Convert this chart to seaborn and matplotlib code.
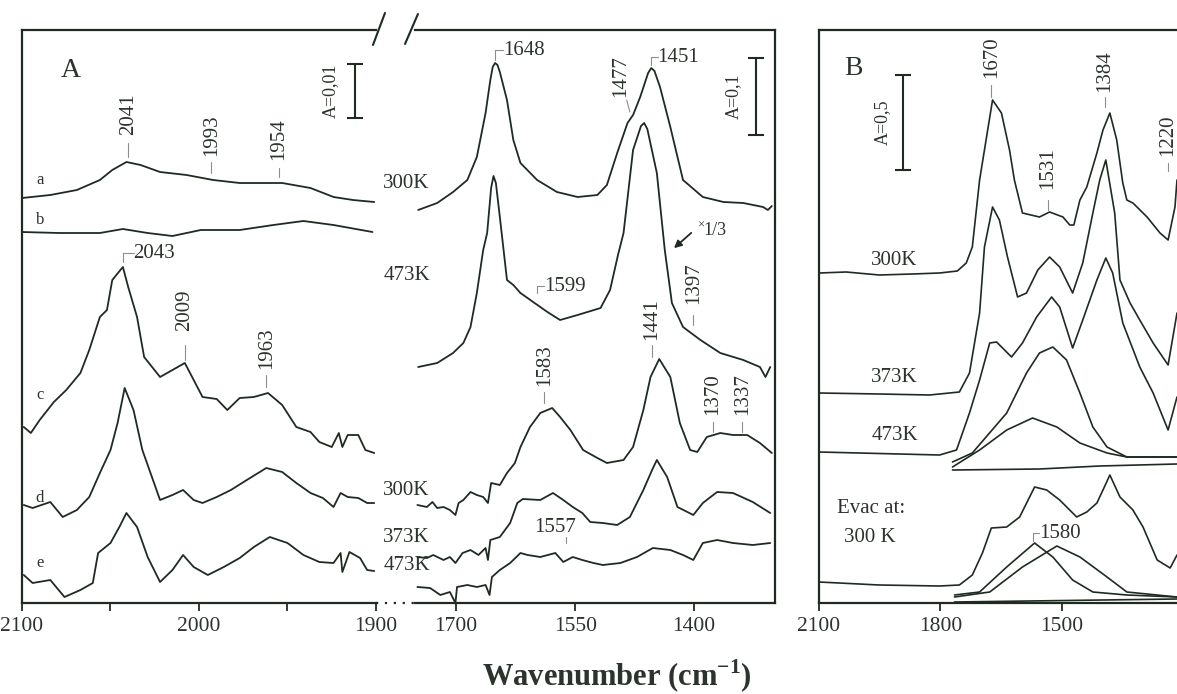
import matplotlib.pyplot as plt
import seaborn as sns
from matplotlib.lines import Line2D

# ---- data (wavenumber cm-1, stacked absorbance offset a.u.) ----
# panel A, 2100-1900 region
a_wn = [2100, 2084, 2069, 2056, 2049, 2041, 2033, 2022, 2007, 1992, 1977, 1953, 1937, 1924, 1913, 1901]
a_y = [405, 408, 413, 423, 433, 441, 438, 431, 428, 423, 420, 420, 415, 406, 403, 401]
b_wn = [2100, 2079, 2056, 2043, 2029, 2015, 1999, 1977, 1958, 1941, 1924, 1902]
b_y = [371, 370, 370, 374, 370, 367, 373, 373, 378, 382, 378, 371]
c_wn = [2099, 2095, 2090, 2082, 2075, 2067, 2062, 2056, 2052, 2049, 2043, 2040, 2035, 2031, 2022, 2015,
        2008, 2003, 1998, 1990, 1984, 1977, 1969, 1961, 1953, 1945, 1937, 1932, 1925, 1921, 1919, 1916,
        1910, 1906, 1901]
c_y = [176, 170, 183, 201, 213, 230, 253, 286, 293, 323, 336, 316, 286, 246, 226, 233,
       240, 223, 206, 204, 193, 205, 206, 210, 198, 176, 171, 161, 156, 170, 156, 168,
       168, 153, 150]
d_wn = [2099, 2094, 2084, 2077, 2069, 2062, 2056, 2050, 2046, 2042, 2037, 2032, 2022, 2015, 2009, 2003,
        1998, 1990, 1982, 1973, 1962, 1953, 1945, 1937, 1930, 1924, 1920, 1916, 1910, 1905, 1901]
d_y = [98, 95, 101, 86, 93, 106, 130, 153, 180, 215, 193, 153, 103, 108, 113, 103,
       100, 106, 113, 123, 135, 131, 120, 110, 105, 96, 110, 106, 105, 100, 100]
e_wn = [2099, 2094, 2084, 2076, 2067, 2060, 2057, 2050, 2045, 2041, 2035, 2029, 2022, 2015, 2009, 2003,
        1995, 1986, 1977, 1969, 1960, 1950, 1941, 1932, 1924, 1920, 1919, 1915, 1909, 1905, 1901]
e_y = [28, 20, 23, 6, 13, 20, 50, 60, 76, 90, 76, 46, 21, 33, 48, 36,
       28, 36, 45, 56, 66, 60, 48, 41, 40, 50, 31, 51, 45, 33, 32]

# panel A, 1750-1300 region
t300_wn = [1748, 1724, 1704, 1686, 1674, 1663, 1657, 1654, 1651, 1648, 1645, 1636, 1628, 1619, 1598, 1573,
           1547, 1522, 1510, 1497, 1484, 1477, 1468, 1458, 1454, 1450, 1443, 1430, 1414, 1389, 1363, 1338,
           1313, 1307, 1302]
t300_y = [393, 400, 411, 423, 446, 490, 523, 536, 540, 538, 531, 503, 463, 440, 423, 411,
          406, 408, 418, 450, 480, 488, 506, 530, 535, 532, 516, 476, 423, 406, 401, 400,
          396, 393, 397]
t473_wn = [1748, 1724, 1704, 1691, 1682, 1674, 1666, 1661, 1656, 1653, 1650, 1645, 1636, 1628, 1619, 1603,
           1585, 1569, 1547, 1518, 1506, 1496, 1489, 1477, 1467, 1463, 1459, 1447, 1437, 1428, 1414, 1392,
           1367, 1338, 1317, 1310, 1304]
t473_y = [236, 240, 250, 260, 276, 310, 353, 370, 415, 427, 420, 386, 323, 318, 310, 301,
          291, 283, 288, 295, 313, 348, 370, 453, 477, 480, 474, 430, 353, 300, 276, 263,
          250, 243, 236, 226, 236]
l300_wn = [1749, 1737, 1730, 1724, 1716, 1708, 1701, 1697, 1691, 1682, 1674, 1666, 1660, 1656, 1645, 1636,
           1626, 1619, 1607, 1594, 1579, 1569, 1556, 1540, 1522, 1510, 1489, 1477, 1464, 1455, 1444, 1430,
           1418, 1405, 1396, 1384, 1367, 1351, 1333, 1317, 1302]
l300_y = [98, 96, 101, 95, 96, 93, 88, 100, 103, 111, 108, 106, 100, 120, 118, 130,
          140, 156, 176, 190, 195, 186, 173, 153, 145, 140, 143, 156, 193, 226, 244, 226,
          180, 153, 151, 166, 170, 168, 168, 160, 150]
l373_wn = [1749, 1737, 1729, 1716, 1708, 1701, 1692, 1682, 1672, 1663, 1660, 1657, 1645, 1632, 1623, 1616,
           1594, 1578, 1565, 1553, 1541, 1531, 1515, 1497, 1481, 1464, 1453, 1447, 1434, 1421, 1401, 1389,
           1371, 1351, 1326, 1304]
l373_y = [46, 45, 48, 43, 46, 40, 50, 53, 48, 55, 43, 63, 66, 80, 100, 104,
          103, 110, 103, 96, 90, 81, 80, 78, 86, 113, 133, 143, 126, 96, 88, 100,
          111, 110, 101, 90]
l473_wn = [1749, 1733, 1720, 1708, 1701, 1699, 1686, 1674, 1663, 1658, 1655, 1645, 1632, 1619, 1610, 1594,
           1575, 1565, 1553, 1541, 1527, 1515, 1493, 1472, 1452, 1430, 1414, 1401, 1389, 1371, 1351, 1326,
           1304]
l473_y = [16, 15, 8, 11, 0, 16, 18, 16, 18, 8, 26, 33, 40, 50, 48, 46,
          50, 41, 46, 43, 40, 38, 40, 46, 55, 53, 48, 43, 60, 63, 60, 58,
          60]

# panel B
b300_wn = [2100, 2033, 1951, 1869, 1802, 1758, 1736, 1721, 1703, 1691, 1671, 1649, 1629, 1617, 1597, 1555,
           1530, 1497, 1480, 1470, 1455, 1438, 1413, 1398, 1381, 1364, 1349, 1339, 1324, 1289, 1257, 1237,
           1220, 1215]
b300_y = [330, 331, 328, 329, 330, 332, 340, 356, 423, 453, 503, 490, 453, 423, 390, 386,
          391, 386, 378, 378, 403, 416, 450, 473, 490, 463, 420, 403, 400, 386, 370, 363,
          396, 423]
b373_wn = [2100, 1951, 1827, 1753, 1728, 1703, 1691, 1671, 1654, 1634, 1609, 1587, 1559, 1530, 1505, 1473,
           1448, 1423, 1406, 1391, 1369, 1356, 1331, 1307, 1274, 1237, 1215]
b373_y = [210, 209, 208, 211, 230, 290, 356, 396, 383, 346, 306, 310, 333, 346, 336, 310,
          340, 390, 423, 443, 390, 323, 300, 283, 260, 238, 290]
b473_wn = [2100, 1802, 1760, 1728, 1703, 1678, 1661, 1624, 1597, 1562, 1525, 1505, 1473, 1448, 1413, 1391,
           1374, 1349, 1307, 1274, 1237, 1215]
b473_y = [151, 148, 153, 190, 223, 260, 261, 246, 260, 286, 306, 296, 255, 283, 323, 345,
          330, 280, 236, 210, 173, 206]
fit1_wn = [1770, 1721, 1636, 1587, 1555, 1522, 1488, 1455, 1423, 1388, 1339, 1215]
fit1_y = [141, 150, 190, 230, 250, 256, 243, 210, 176, 156, 146, 146]
fit2_wn = [1770, 1703, 1636, 1572, 1512, 1455, 1388, 1339, 1215]
fit2_y = [136, 153, 173, 185, 176, 160, 150, 146, 146]
fitb_wn = [1770, 1555, 1406, 1215]
fitb_y = [133, 134, 137, 139]
evac_wn = [2100, 1951, 1802, 1753, 1721, 1696, 1674, 1636, 1604, 1567, 1537, 1505, 1463, 1438, 1413, 1398,
           1381, 1356, 1324, 1299, 1264, 1232, 1215]
evac_y = [21, 18, 17, 18, 28, 50, 75, 76, 86, 116, 113, 103, 86, 91, 100, 113,
          128, 106, 93, 76, 43, 35, 48]
ev1_wn = [1765, 1703, 1636, 1567, 1522, 1473, 1423, 1339, 1215]
ev1_y = [8, 11, 36, 60, 46, 23, 11, 8, 6]
ev2_wn = [1765, 1678, 1597, 1512, 1455, 1388, 1339, 1215]
ev2_y = [6, 11, 36, 57, 46, 26, 11, 6]
evb_wn = [1765, 1215]
evb_y = [1, 4]

LINE = '#1f2b21'
TXT = '#2c332c'
TICK = '#8a8f8a'

sns.set_style('ticks')
plt.rcParams['font.family'] = ['Liberation Serif', 'DejaVu Sans']
plt.rcParams['mathtext.fontset'] = 'custom'
plt.rcParams['mathtext.rm'] = 'Liberation Serif'
plt.rcParams['mathtext.bf'] = 'Liberation Serif:bold'

fig = plt.figure(figsize=(11.77, 6.94), dpi=100)
axL = fig.add_axes([0.01869, 0.13112, 0.30076, 0.82565])
axR = fig.add_axes([0.35259, 0.13112, 0.30586, 0.82565])
axB = fig.add_axes([0.69584, 0.13112, 0.30416, 0.82565])


def setup(ax, xlim, ticks, minor, shown):
    ax.set_xticks(ticks)
    ax.set_xticks(minor, minor=True)
    ax.set_xlim(*xlim)
    ax.set_ylim(0, 573)
    ax.set_yticks([])
    for s in ['left', 'right', 'top', 'bottom']:
        ax.spines[s].set_visible(s in shown)
        ax.spines[s].set_color(LINE)
        ax.spines[s].set_linewidth(1.6)
    ax.tick_params(axis='x', which='both', direction='out', length=6, width=1.3,
                   colors=LINE, labelcolor=TXT, labelsize=15.5, pad=4, bottom=True)
    ax.tick_params(axis='y', left=False, right=False)
    ax.patch.set_alpha(0)


def curve(ax, wn, y, lw=1.3):
    sns.lineplot(x=wn, y=y, ax=ax, color=LINE, lw=lw, sort=False, estimator=None)


def vlabel(ax, x, ytext, t0, t1, text, fs=15):
    ax.plot([x, x], [t0, t1], color=TICK, lw=0.8)
    ax.text(x, ytext, text, rotation=90, ha='center', va='center', fontsize=fs, color=TXT)


def blabel(ax, x, x2, y0, y1, text, fs=15):
    ax.plot([x, x, x2], [y0, y1, y1], color=TICK, lw=0.8)
    ax.text(x2, y1, text, ha='left', va='center', fontsize=fs, color=TXT)


def scalebar(ax, x, y0, y1, text, xt):
    ax.errorbar([x], [(y0 + y1) / 2], yerr=[(y1 - y0) / 2], color=LINE, lw=1.5, capsize=6, capthick=1.5)
    ax.text(xt, (y0 + y1) / 2, text, rotation=90, ha='center', va='center', fontsize=13, color=TXT)


setup(axL, (2100, 1900), [2100, 2000, 1900], [2050, 1950], ['left', 'top', 'bottom'])
setup(axR, (1752, 1298), [1700, 1550, 1400], [], ['right', 'top', 'bottom'])
setup(axB, (2100, 1215), [2100, 1800, 1500], [], ['left', 'top', 'bottom'])

# panel A left
for wn, y in [(a_wn, a_y), (b_wn, b_y), (c_wn, c_y), (d_wn, d_y), (e_wn, e_y)]:
    curve(axL, wn, y)
axL.text(2078, 533, 'A', fontsize=20, color=TXT, ha='left', va='center')
for lab, yy in [('a', 423), ('b', 383), ('c', 208), ('d', 105), ('e', 40)]:
    axL.text(2090, yy, lab, fontsize=12, color=TXT, ha='center', va='center')
vlabel(axL, 2040, 489, 446, 460, '2041')
vlabel(axL, 1993, 468, 430, 441, '1993')
vlabel(axL, 1955, 464, 426, 435, '1954')
blabel(axL, 2043, 2037, 341, 350, '2043')
vlabel(axL, 2008, 293, 243, 258, '2009')
vlabel(axL, 1962, 255, 216, 228, '1963')
scalebar(axL, 1912, 485, 539, 'A=0,01', 1926)

# panel A right
for wn, y in [(t300_wn, t300_y), (t473_wn, t473_y), (l300_wn, l300_y), (l373_wn, l373_y), (l473_wn, l473_y)]:
    curve(axR, wn, y)
blabel(axR, 1651, 1641, 543, 553, '1648')
blabel(axR, 1455, 1446, 538, 546, '1451')
blabel(axR, 1598, 1589, 310, 317, '1599')
axR.plot([1485, 1481], [503, 491], color=TICK, lw=0.8)
axR.text(1492, 527, '1477', rotation=90, ha='center', va='center', fontsize=15, color=TXT)
vlabel(axR, 1401, 320, 278, 288, '1397')
vlabel(axR, 1589, 238, 200, 211, '1583')
vlabel(axR, 1453, 284, 246, 258, '1441')
vlabel(axR, 1376, 209, 171, 181, '1370')
vlabel(axR, 1339, 209, 171, 181, '1337')
axR.plot([1561, 1561], [60, 66], color=TICK, lw=0.8)
axR.text(1575, 76, '1557', ha='center', va='center', fontsize=15, color=TXT)
for lab, yy in [('300K', 420), ('473K', 328), ('300K', 113), ('373K', 66), ('473K', 38)]:
    axR.text(1792, yy, lab, ha='left', va='center', fontsize=15, color=TXT, clip_on=False)
scalebar(axR, 1322, 468, 545, 'A=0,1', 1351)
axR.annotate('', xy=(1428, 353), xytext=(1401, 372),
             arrowprops=dict(arrowstyle='-|>', color=LINE, lw=1.3, mutation_scale=11))
axR.text(1396, 377, '×', fontsize=9, color=TXT, ha='left', va='center')
axR.text(1388, 373, '1/3', fontsize=13, color=TXT, ha='left', va='center')

# panel B
for wn, y in [(b300_wn, b300_y), (b373_wn, b373_y), (b473_wn, b473_y), (fit1_wn, fit1_y),
              (fit2_wn, fit2_y), (fitb_wn, fitb_y), (evac_wn, evac_y), (ev1_wn, ev1_y),
              (ev2_wn, ev2_y), (evb_wn, evb_y)]:
    curve(axB, wn, y, lw=1.2)
axB.text(2038, 535, 'B', fontsize=20, color=TXT, ha='left', va='center')
scalebar(axB, 1892, 433, 528, 'A=0,5', 1944)
vlabel(axB, 1674, 546, 506, 518, '1670')
vlabel(axB, 1393, 532, 496, 506, '1384')
vlabel(axB, 1535, 435, 393, 403, '1531')
vlabel(axB, 1238, 468, 432, 440, '1220')
for lab, yy in [('300K', 343), ('373K', 226), ('473K', 168)]:
    axB.text(1971, yy, lab, ha='left', va='center', fontsize=15, color=TXT)
axB.text(2055, 95, 'Evac at:', ha='left', va='center', fontsize=15, color=TXT)
axB.text(2038, 66, '300 K', ha='left', va='center', fontsize=15, color=TXT)
blabel(axB, 1572, 1555, 62, 70, '1580')

for ax in (axL, axR, axB):
    ax.set_xlabel('')
    ax.set_ylabel('')

# axis break marks and dotted gap
fig.add_artist(Line2D([0.3169, 0.3271], [0.9352, 0.9813], color=LINE, lw=1.5))
fig.add_artist(Line2D([0.3441, 0.3551], [0.9366, 0.9798], color=LINE, lw=1.5))
fig.add_artist(Line2D([0.3195, 0.3526], [0.1311, 0.1311], color=LINE, lw=1.6, ls=(0, (1, 3))))

fig.text(0.524, 0.026, r'Wavenumber (cm$^{\mathbf{-1}}$)', ha='center', va='center',
         fontsize=22, fontweight='bold', color=TXT)

fig.savefig('out.png', dpi=100)
